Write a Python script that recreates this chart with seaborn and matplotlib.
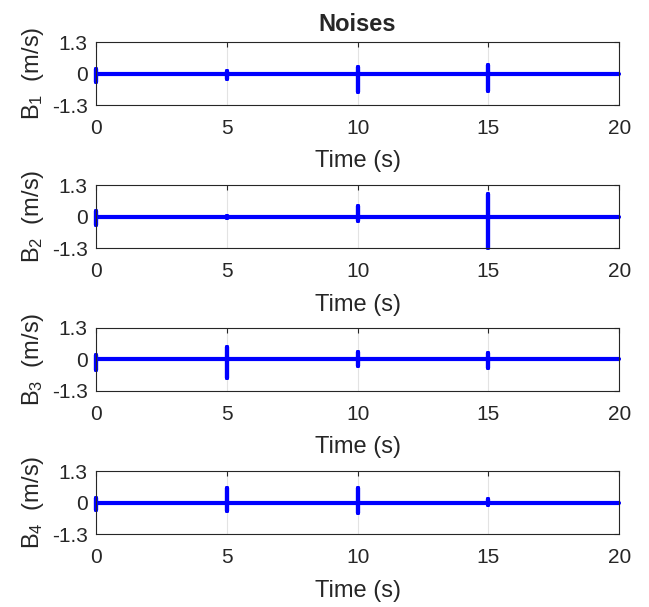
import matplotlib
matplotlib.use("Agg")
import matplotlib.pyplot as plt
import numpy as np
import pandas as pd
import seaborn as sns

# Burst times (s) and the peak / trough of each burst for every channel (m/s)
event_times = [0, 5, 10, 15]
b1_peaks = [0.20, 0.12, 0.26, 0.36]
b1_troughs = [-0.34, -0.22, -0.76, -0.74]
b2_peaks = [0.24, 0.05, 0.46, 0.92]
b2_troughs = [-0.32, -0.05, -0.18, -1.30]
b3_peaks = [0.18, 0.52, 0.30, 0.27]
b3_troughs = [-0.44, -0.76, -0.28, -0.34]
b4_peaks = [0.18, 0.62, 0.60, 0.16]
b4_troughs = [-0.30, -0.34, -0.42, -0.10]

channel_labels = ["1", "2", "3", "4"]
x_ticks = [0, 5, 10, 15, 20]
y_ticks = [-1.3, 0, 1.3]
y_tick_labels = ["-1.3", "0", "1.3"]
t_end = 20

sns.set_style("white")
plt.rcParams["font.family"] = ["Liberation Sans", "DejaVu Sans"]
plt.rcParams["mathtext.fontset"] = "custom"
plt.rcParams["mathtext.rm"] = "Liberation Sans"


def burst_path(peaks, troughs):
    t, v = [], []
    for et, hi, lo in zip(event_times, peaks, troughs):
        t += [et, et, et, et]
        v += [0.0, hi, lo, 0.0]
    t.append(t_end)
    v.append(0.0)
    return pd.DataFrame({"t": t, "v": v})


fig = plt.figure(figsize=(6.49, 6.07), dpi=100)
bottoms = [0.827, 0.591, 0.356, 0.120]
series = [(b1_peaks, b1_troughs), (b2_peaks, b2_troughs),
          (b3_peaks, b3_troughs), (b4_peaks, b4_troughs)]
axis_color = "#262626"

for i, ((pk, tr), lab, b) in enumerate(zip(series, channel_labels, bottoms)):
    ax = fig.add_axes([0.148, b, 0.806, 0.1038])
    df = burst_path(pk, tr)
    sns.lineplot(data=df, x="t", y="v", sort=False, estimator=None,
                 color="#0000ff", lw=3.0, ax=ax, solid_capstyle="round",
                 solid_joinstyle="round")
    for ln in ax.lines:
        ln.set_clip_on(False)
    ax.set_xlim(0, 20)
    ax.set_ylim(-1.3, 1.3)
    ax.set_xticks(x_ticks)
    ax.set_yticks(y_ticks)
    ax.set_yticklabels(y_tick_labels)
    ax.set_axisbelow(True)
    ax.grid(True, color="#e3e3e3", lw=0.8)
    ax.tick_params(direction="in", length=3.5, width=0.8, top=True, right=True,
                   labelsize=15, colors=axis_color)
    ax.tick_params(axis="x", pad=10)
    ax.tick_params(axis="y", pad=6)
    for s in ax.spines.values():
        s.set_color(axis_color)
        s.set_linewidth(0.8)
    ax.set_xlabel("Time (s)", fontsize=17, color=axis_color, labelpad=9)
    ax.set_ylabel(r"$\mathregular{B_%s}$  (m/s)" % lab, fontsize=17,
                  color=axis_color)
    ax.yaxis.set_label_coords(-0.095, 0.5)
    if i == 0:
        ax.set_title("Noises", fontsize=17, fontweight="bold", pad=8)

fig.savefig("out.png", dpi=100)
